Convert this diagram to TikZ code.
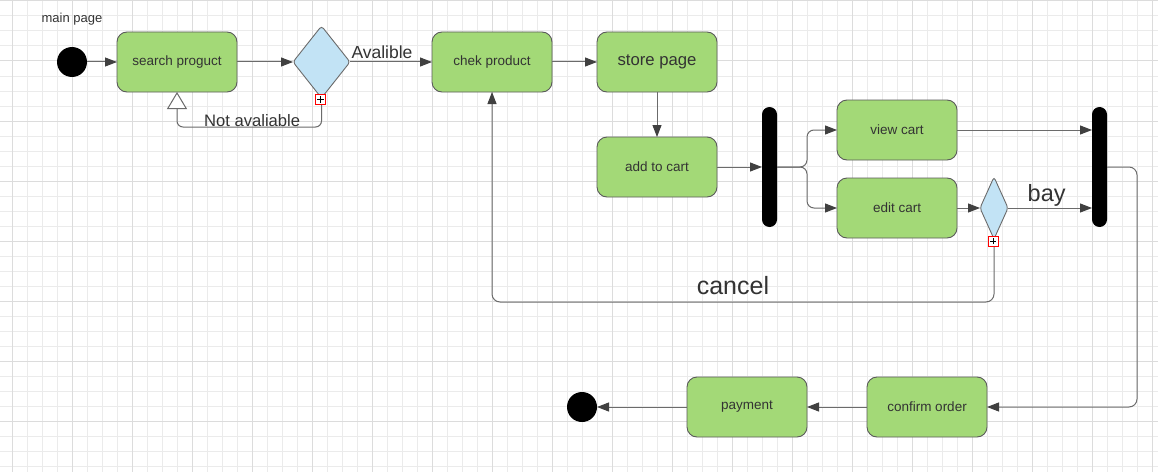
\documentclass[tikz,border=0pt]{standalone}
\usepackage{fontspec}
\setmainfont{Liberation Sans}
\usetikzlibrary{arrows.meta,positioning,shapes.geometric,calc}
\definecolor{actgreen}{HTML}{A3D977}
\definecolor{decblue}{HTML}{C2E3F5}
\definecolor{edgegray}{HTML}{6B6B6B}
\definecolor{boxgray}{HTML}{5A5A5A}
\definecolor{txtgray}{HTML}{333333}
\definecolor{gridminor}{HTML}{EBEBEB}
\definecolor{gridmajor}{HTML}{DCDCDC}

\begin{document}
\begin{tikzpicture}[
  x=1pt, y=1pt,
  node distance=45pt,
  every node/.style={outer sep=0pt},
  activity/.style={draw=boxgray, fill=actgreen, rounded corners=10pt, minimum width=120pt, minimum height=60pt, align=center, text=txtgray, font=\fontsize{13.5}{16}\selectfont, line width=0.9pt},
  startdot/.style={circle, fill=black, minimum size=30pt, inner sep=0pt},
  syncbar/.style={fill=black, rounded corners=7.5pt, minimum width=15pt, minimum height=120pt, inner sep=0pt},
  decision/.style={diamond, draw=edgegray, fill=decblue, inner sep=0pt, rounded corners=3pt, line width=0.9pt},
  plusbox/.style={draw=red, fill=white, minimum size=10pt, inner sep=0pt, line width=0.9pt,
    path picture={\draw[black, line width=0.8pt] ($(path picture bounding box.center)+(-3.2,0)$) -- ++(6.4,0) ($(path picture bounding box.center)+(0,-3.2)$) -- ++(0,6.4);}},
  lbl/.style={text=txtgray, inner sep=2pt},
  arr/.style={draw=edgegray, line width=1pt, -{Triangle[length=12pt, width=9pt, color=black!75]}},
  openarr/.style={draw=edgegray, line width=1pt, -{Triangle[length=17pt, width=20pt, fill=white]}},
]
  % paper and grid
  \useasboundingbox (-72,62) rectangle (1086,-409);
  \fill[white] (-72,62) rectangle (1086,-409);
  \begin{scope}
    \clip (-72,62) rectangle (1086,-409);
    \draw[gridminor, line width=1pt, shift={(0.5,1)}, step=15] (-90,-420) grid (1095,75);
    \draw[gridmajor, line width=1pt, shift={(0.5,1)}, step=60] (-90,-420) grid (1095,75);
  \end{scope}

  \node[startdot] (start) at (0,0) {};
  \node[lbl, inner sep=0pt, above=22pt of start, font=\fontsize{13}{15}\selectfont] (mainlbl) {main page};
  \node[activity, right=30pt of start] (search) {search proguct};
  \node[decision, minimum width=57pt, minimum height=72pt, right=56pt of search] (dA) {};
  \node[activity, right=82pt of dA] (chek) {chek product};
  \node[activity, right=of chek, font=\fontsize{16.7}{20}\selectfont] (store) {store page};
  \node[activity, below=of store] (add) {add to cart};
  \node[syncbar, right=of add] (fork) {};
  \node[activity, right=60pt of fork, yshift=37pt] (view) {view cart};
  \node[activity, below=18pt of view] (edit) {edit cart};
  \node[decision, minimum width=28pt, minimum height=62pt, right=23pt of edit] (dB) {};
  \node[syncbar, right=315pt of fork] (join) {};
  \node[activity, below left=150pt and 105pt of join] (confirm) {confirm order};
  \node[activity, left=60pt of confirm] (pay) {payment};
  \node[startdot, left=90pt of pay] (stop) {};

  \coordinate[right=30pt of fork] (split);
  \coordinate[right=30pt of join] (turn);
  \coordinate[below=63pt of dB.south] (back);
  \coordinate[below=29pt of dA.south] (loop);

  \draw[arr] (start) -- (search);
  \draw[arr] (search) -- (dA);
  \draw[arr] (dA) -- node[lbl, above, pos=0.39, inner sep=3.5pt, font=\fontsize{17.5}{20}\selectfont] {Avalible} (chek);
  \draw[openarr, rounded corners=6pt] (dA.south) -- (loop) -| node[lbl, above, pos=0.24, inner sep=0.5pt, font=\fontsize{16.6}{19}\selectfont] {Not avaliable} (search.south);
  \draw[arr] (chek) -- (store);
  \draw[arr] (store) -- (add);
  \draw[arr] (add) -- (fork);
  \draw[arr, rounded corners=7pt] (fork.east) -- (split) |- (view.west);
  \draw[arr, rounded corners=7pt] (fork.east) -- (split) |- (edit.west);
  \draw[arr] (view) -- (view -| join.west);
  \draw[arr] (edit) -- (dB);
  \draw[arr] (dB) -- node[lbl, above, pos=0.46, inner sep=1.5pt, font=\fontsize{23.5}{26}\selectfont] {bay} (dB -| join.west);
  \draw[arr, rounded corners=8pt] (dB.south) -- (back) -| node[lbl, above, pos=0.26, inner sep=7pt, font=\fontsize{25}{28}\selectfont] {cancel} (chek.south);
  \draw[arr, rounded corners=8pt] (join.east) -- (turn) |- (confirm.east);
  \draw[arr] (confirm) -- (pay);
  \draw[arr] (pay) -- (stop);

  \node[plusbox] (plusA) at ([shift={(-1,-1.5)}]dA.south) {};
  \node[plusbox] (plusB) at ([shift={(-1,-2)}]dB.south) {};
\end{tikzpicture}
\end{document}
